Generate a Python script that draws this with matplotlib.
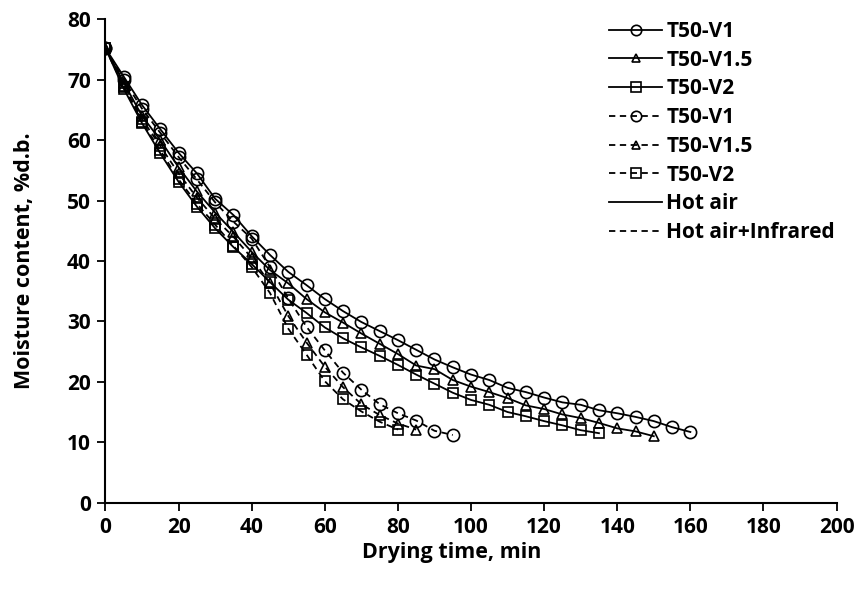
import matplotlib.pyplot as plt
from matplotlib.lines import Line2D

plt.rcParams['font.family'] = ['Open Sans', 'DejaVu Sans']
plt.rcParams['font.weight'] = 'bold'

# Drying time (min) and moisture content (%d.b.)
t_ha_v1 = list(range(0, 165, 5))
m_ha_v1 = [75.2, 70.5, 65.8, 61.8, 57.9, 54.5, 50.3, 47.6, 44.1, 41.0, 38.2,
           36.0, 33.7, 31.7, 29.9, 28.4, 26.9, 25.3, 23.7, 22.4, 21.2, 20.3,
           19.0, 18.3, 17.4, 16.6, 16.2, 15.3, 14.8, 14.2, 13.5, 12.5, 11.7]

t_ha_v15 = list(range(0, 155, 5))
m_ha_v15 = [75.2, 69.5, 64.0, 60.0, 55.5, 51.5, 48.0, 44.8, 41.5, 38.5, 36.3,
            33.7, 31.5, 29.8, 28.0, 26.3, 24.6, 22.7, 22.1, 20.3, 19.2, 18.3,
            17.3, 16.1, 15.5, 14.6, 14.0, 13.2, 12.3, 11.8, 11.0]

t_ha_v2 = list(range(0, 140, 5))
m_ha_v2 = [75.2, 68.5, 62.8, 57.8, 53.1, 49.0, 45.4, 42.3, 39.5, 36.5, 33.6,
           31.4, 29.0, 27.2, 25.7, 24.3, 22.8, 21.2, 19.7, 18.2, 17.0, 16.2,
           15.0, 14.3, 13.5, 12.8, 12.0, 11.5]

t_ir_v1 = list(range(0, 100, 5))
m_ir_v1 = [75.2, 70.0, 65.2, 61.2, 57.2, 53.5, 49.7, 46.5, 43.7, 39.0, 33.8,
           29.1, 25.2, 21.5, 18.7, 16.3, 14.8, 13.6, 11.9, 11.2]

t_ir_v15 = list(range(0, 90, 5))
m_ir_v15 = [75.2, 69.0, 63.5, 59.0, 54.5, 50.5, 47.0, 44.0, 40.5, 36.3, 30.9,
            26.5, 22.5, 19.1, 16.3, 14.5, 13.1, 12.1]

t_ir_v2 = list(range(0, 85, 5))
m_ir_v2 = [75.2, 68.8, 63.0, 58.3, 53.5, 49.5, 46.0, 42.5, 39.0, 34.7, 28.8,
           24.5, 20.1, 17.1, 15.1, 13.4, 12.1]

dash = (0, (3.5, 2.5))
lw = 1.3
mew = 1.2

fig = plt.figure(figsize=(8.59, 5.93), dpi=100)
ax = fig.add_axes([0.1228, 0.1523, 0.8511, 0.8152])

h1, = ax.plot(t_ha_v1, m_ha_v1, '-', color='black', lw=lw, marker='o', ms=8.8,
              mfc='none', mec='black', mew=mew, label='T50-V1')
h2, = ax.plot(t_ha_v15, m_ha_v15, '-', color='black', lw=lw, marker='^', ms=7.2,
              mfc='none', mec='black', mew=mew, label='T50-V1.5')
h3, = ax.plot(t_ha_v2, m_ha_v2, '-', color='black', lw=lw, marker='s', ms=7.8,
              mfc='none', mec='black', mew=mew, label='T50-V2')
h4, = ax.plot(t_ir_v1, m_ir_v1, linestyle=dash, color='black', lw=lw, marker='o',
              ms=8.8, mfc='none', mec='black', mew=mew, label='T50-V1')
h5, = ax.plot(t_ir_v15, m_ir_v15, linestyle=dash, color='black', lw=lw, marker='^',
              ms=7.2, mfc='none', mec='black', mew=mew, label='T50-V1.5')
h6, = ax.plot(t_ir_v2, m_ir_v2, linestyle=dash, color='black', lw=lw, marker='s',
              ms=7.8, mfc='none', mec='black', mew=mew, label='T50-V2')
h7 = Line2D([], [], color='black', lw=lw, label='Hot air')
h8 = Line2D([], [], color='black', lw=lw, linestyle=dash, label='Hot air+Infrared')

ax.set_xlim(0, 200)
ax.set_ylim(0, 80)
ax.set_xticks(range(0, 201, 20))
ax.set_yticks(range(0, 81, 10))
for s in ['top', 'right']:
    ax.spines[s].set_visible(False)
for s in ['left', 'bottom']:
    ax.spines[s].set_linewidth(1.5)
    ax.spines[s].set_color('black')
ax.tick_params(direction='out', length=5.5, width=1.3, labelsize=15, pad=5)

ax.set_xlabel('Drying time, min', fontsize=15.5, fontweight='bold')
ax.xaxis.set_label_coords(0.474, -0.082)
ax.set_ylabel('Moisture content, %d.b.', fontsize=15.5, fontweight='bold', labelpad=23)

leg = ax.legend(handles=[h1, h2, h3, h4, h5, h6, h7, h8], loc='upper left',
                bbox_to_anchor=(0.709, 0.9645), bbox_transform=fig.transFigure,
                frameon=False, fontsize=15, handlelength=2.55, handletextpad=0.2,
                labelspacing=0.37, borderaxespad=0, borderpad=0, markerscale=0.85)
for txt in leg.get_texts():
    txt.set_fontweight('bold')

fig.savefig('out.png', dpi=100)
